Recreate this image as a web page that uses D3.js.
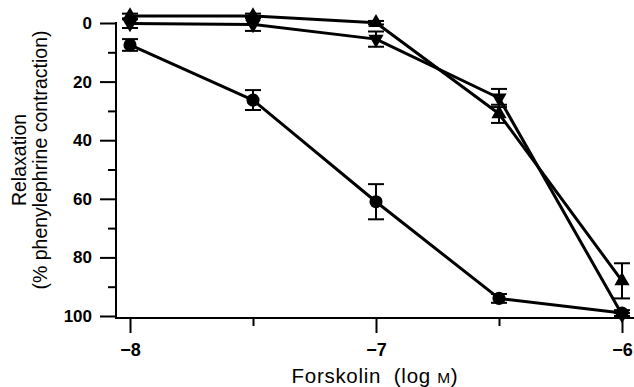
<!DOCTYPE html>
<html>
<head>
<meta charset="utf-8">
<script src="https://cdn.jsdelivr.net/npm/d3@7"></script>
<style>
  body { margin: 0; background: #fff; }
  svg { display: block; }
</style>
</head>
<body>
<div id="chart"></div>
<script>
// forskolin concentrations (log M)
const logConc = [-8, -7.5, -7, -6.5, -6];

// relaxation (% of phenylephrine contraction)
const circleMean = [7.5, 26.3, 61, 94, 99];
const circleErr  = [2, 3.4, 6, 1.5, 1];
const upMean     = [-2.4, -2.4, -0.1, 31, 88];
const upErr      = [0.8, 0.8, 0.6, 3.1, 6];
const downMean   = [0.2, 0.5, 5.5, 25.6, 99.5];
const downErr    = [1.5, 2.2, 2.6, 3.1, 0.5];

const xMajor = [-8, -7, -6];
const xMinor = [-7.5, -6.5];
const yMajor = [0, 20, 40, 60, 80, 100];
const yMinor = [10, 30, 50, 70, 90];

const series = [
  { name: "circle", mean: circleMean, err: circleErr, symbol: d3.symbolCircle, size: 135, rotate: 0 },
  { name: "up", mean: upMean, err: upErr, symbol: d3.symbolTriangle, size: 100, rotate: 0 },
  { name: "down", mean: downMean, err: downErr, symbol: d3.symbolTriangle, size: 100, rotate: 180 }
];

const width = 634, height = 387;
const axisLeft = 116, axisBottom = 318, axisTop = 22;

const x = d3.scaleLinear().domain([-8, -6]).range([130, 622]);
const y = d3.scaleLinear().domain([0, 100]).range([23, 316]);

const svg = d3.select("#chart").append("svg")
  .attr("width", width)
  .attr("height", height)
  .attr("viewBox", [0, 0, width, height]);

const ink = "#000";
const font = "'Liberation Sans', Arial, Helvetica, sans-serif";

// axis lines
svg.append("line")
  .attr("x1", axisLeft).attr("x2", axisLeft)
  .attr("y1", axisTop).attr("y2", axisBottom + 1)
  .attr("stroke", ink).attr("stroke-width", 2);
svg.append("line")
  .attr("x1", axisLeft - 1).attr("x2", width)
  .attr("y1", axisBottom).attr("y2", axisBottom)
  .attr("stroke", ink).attr("stroke-width", 2);

// y axis, major ticks with labels
const yAxis = svg.append("g")
  .attr("transform", `translate(${axisLeft},0)`)
  .call(d3.axisLeft(y).tickValues(yMajor).tickSize(16).tickPadding(8));
yAxis.select(".domain").remove();
yAxis.selectAll(".tick line").attr("stroke-width", 2);
yAxis.selectAll("text")
  .attr("font-family", font)
  .attr("font-size", 17)
  .attr("font-weight", "bold")
  .attr("fill", ink);

const yAxisMinor = svg.append("g")
  .attr("transform", `translate(${axisLeft},0)`)
  .call(d3.axisLeft(y).tickValues(yMinor).tickSize(8).tickFormat(""));
yAxisMinor.select(".domain").remove();
yAxisMinor.selectAll(".tick line").attr("stroke-width", 2);

// x axis
const fmtX = d => d3.format("d")(d).replace("-", "\u2212");
const xAxis = svg.append("g")
  .attr("transform", `translate(0,${axisBottom})`)
  .call(d3.axisBottom(x).tickValues(xMajor).tickSize(15).tickPadding(10).tickFormat(fmtX));
xAxis.select(".domain").remove();
xAxis.selectAll(".tick line").attr("stroke-width", 2);
xAxis.selectAll("text")
  .attr("font-family", font)
  .attr("font-size", 18)
  .attr("font-weight", "bold")
  .attr("fill", ink);

const xAxisMinor = svg.append("g")
  .attr("transform", `translate(0,${axisBottom})`)
  .call(d3.axisBottom(x).tickValues(xMinor).tickSize(8).tickFormat(""));
xAxisMinor.select(".domain").remove();
xAxisMinor.selectAll(".tick line").attr("stroke-width", 2);

// axis titles
const xTitle = svg.append("text")
  .attr("x", 375)
  .attr("y", 383)
  .attr("text-anchor", "middle")
  .attr("font-family", font)
  .attr("font-size", 20.5)
  .attr("letter-spacing", 0.7)
  .attr("fill", ink);
xTitle.append("tspan").text("Forskolin\u00a0\u00a0(log\u00a0");
xTitle.append("tspan").attr("font-size", 15.5).text("M");
xTitle.append("tspan").text(")");

const yTitle = svg.append("g").attr("transform", "translate(0,160) rotate(-90)");
yTitle.append("text")
  .attr("x", 0).attr("y", 26)
  .attr("text-anchor", "middle")
  .attr("font-family", font)
  .attr("font-size", 19.5)
  .attr("fill", ink)
  .text("Relaxation");
yTitle.append("text")
  .attr("x", 0).attr("y", 47)
  .attr("text-anchor", "middle")
  .attr("font-family", font)
  .attr("font-size", 19.5)
  .attr("fill", ink)
  .text("(% phenylephrine contraction)");

// lines
const line = d3.line()
  .x((d, i) => x(logConc[i]))
  .y(d => y(d));

svg.append("g")
  .selectAll("path")
  .data(series)
  .join("path")
  .attr("d", s => line(s.mean))
  .attr("fill", "none")
  .attr("stroke", ink)
  .attr("stroke-width", 3)
  .attr("stroke-linejoin", "round");

// error bars
const cap = 8;
series.forEach(s => {
  const g = svg.append("g").attr("stroke", ink).attr("stroke-width", 2);
  const pts = s.mean.map((m, i) => ({ cx: x(logConc[i]), lo: y(m - s.err[i]), hi: y(m + s.err[i]) }));
  g.selectAll("line.v").data(pts).join("line").attr("class", "v")
    .attr("x1", d => d.cx).attr("x2", d => d.cx)
    .attr("y1", d => d.lo).attr("y2", d => d.hi);
  g.selectAll("line.t").data(pts).join("line").attr("class", "t")
    .attr("x1", d => d.cx - cap).attr("x2", d => d.cx + cap)
    .attr("y1", d => d.lo).attr("y2", d => d.lo);
  g.selectAll("line.b").data(pts).join("line").attr("class", "b")
    .attr("x1", d => d.cx - cap).attr("x2", d => d.cx + cap)
    .attr("y1", d => d.hi).attr("y2", d => d.hi);
});

// markers
series.forEach(s => {
  const sym = d3.symbol().type(s.symbol).size(s.size);
  svg.append("g")
    .selectAll("path")
    .data(s.mean)
    .join("path")
    .attr("d", sym)
    .attr("transform", (d, i) => `translate(${x(logConc[i])},${y(d)}) rotate(${s.rotate})`)
    .attr("fill", ink);
});
</script>
</body>
</html>
